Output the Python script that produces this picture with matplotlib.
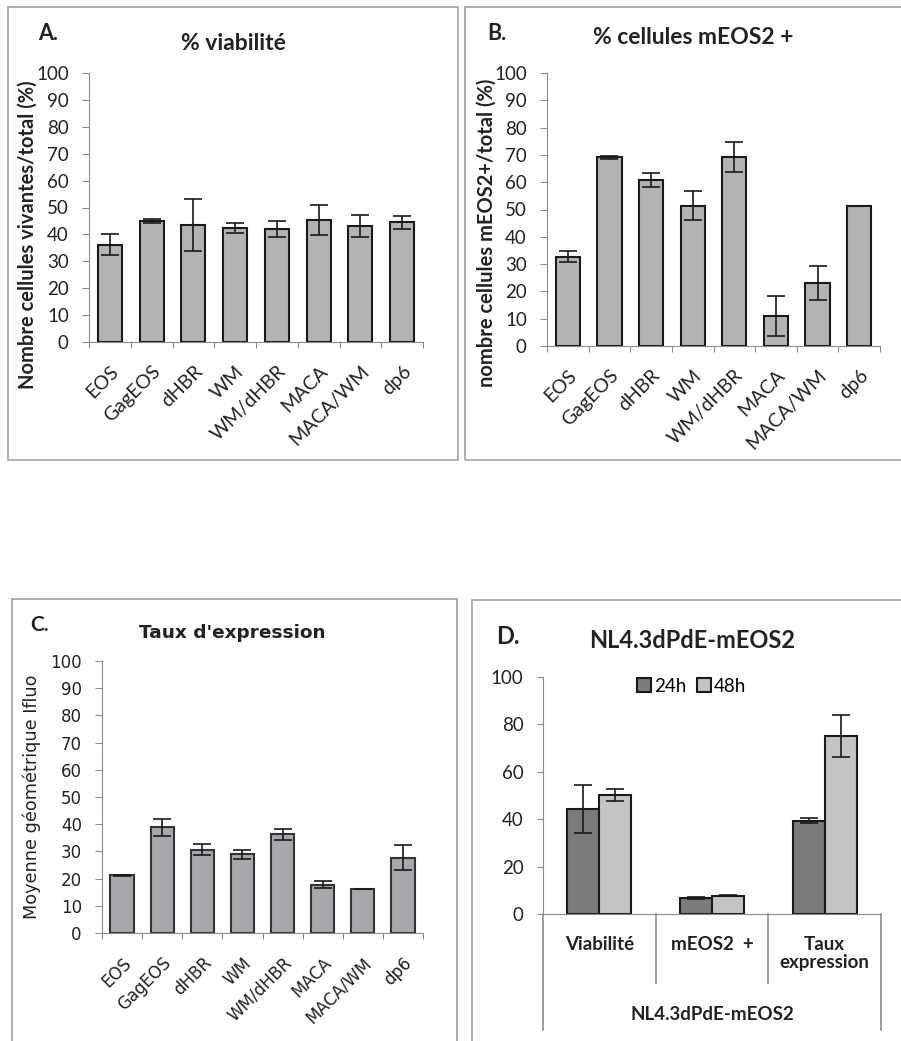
import numpy as np
import matplotlib.pyplot as plt
from matplotlib.patches import Rectangle
from matplotlib.transforms import blended_transform_factory

W, H = 901, 1041

conditions = ["EOS", "GagEOS", "dHBR", "WM", "WM/dHBR", "MACA", "MACA/WM", "dp6"]
viab = [36.2, 44.9, 43.4, 42.4, 41.9, 45.2, 43.2, 44.5]
viab_err = [4.0, 0.8, 9.7, 1.7, 3.0, 5.6, 4.1, 2.4]
meos = [32.7, 69.1, 60.8, 51.4, 69.2, 11.0, 23.0, 51.2]
meos_err = [2.0, 0.5, 2.4, 5.2, 5.5, 7.4, 6.2, 0.1]
expr = [21.3, 38.8, 30.6, 28.9, 36.3, 17.8, 16.0, 27.7]
expr_err = [0.2, 3.0, 2.1, 1.7, 2.0, 1.4, 0.0, 4.6]

groups_d = ["Viabilité", "mEOS2  +", "Taux\nexpression"]
d_24h = [44.3, 6.7, 39.4]
d_24h_err = [10.3, 0.5, 1.1]
d_48h = [50.2, 7.7, 75.0]
d_48h_err = [2.5, 0.2, 8.9]

plt.rcParams['font.family'] = ['Lato', 'DejaVu Sans']
GREY = '#8c8c8c'
INK = '#222222'

fig = plt.figure(figsize=(W / 100, H / 100), dpi=100)


def add_ax(l, t, r, b):
    return fig.add_axes([l / W, 1 - b / H, (r - l) / W, (b - t) / H])


def frame(l, t, r, b):
    fig.add_artist(Rectangle((l / W, 1 - b / H), (r - l) / W, (b - t) / H,
                             transform=fig.transFigure, fill=False,
                             ec='#a8a8a8', lw=1.3))


def ftext(x, y, s, **kw):
    fig.text(x / W, 1 - y / H, s, ha='center', va='center', color=INK, **kw)


def cat_panel(ax, vals, errs, fill, edge, xfs, yfs, family, pad_x):
    n = len(vals)
    x = np.arange(n)
    ax.bar(x, vals, width=0.58, color=fill, edgecolor=edge, linewidth=1.5,
           yerr=errs, capsize=6.5,
           error_kw=dict(elinewidth=1.2, capthick=1.2, ecolor='#1a1a1a'))
    for s in ['top', 'right']:
        ax.spines[s].set_visible(False)
    for s in ['left', 'bottom']:
        ax.spines[s].set_color(GREY)
    ax.set_xlim(-0.5, n - 0.5)
    ax.set_ylim(0, 100)
    ax.set_yticks(range(0, 101, 10))
    ax.set_xticks(np.arange(n + 1) - 0.5)
    ax.set_xticklabels([])
    ax.set_xticks(x, minor=True)
    ax.set_xticklabels(conditions, minor=True, rotation=45, ha='right',
                       va='top', rotation_mode='anchor')
    ax.tick_params(axis='x', which='minor', length=0, pad=pad_x,
                   labelsize=xfs, labelcolor=INK, labelfontfamily=family)
    ax.tick_params(axis='x', which='major', length=4.5, color=GREY)
    ax.tick_params(axis='y', length=5, color=GREY, pad=9.5, labelsize=yfs,
                   labelcolor=INK, labelfontfamily=family)


# frames
frame(8, 7, 458, 460)
frame(465, 7, 910, 460)
frame(12, 599, 457, 1050)
frame(472, 600, 910, 1050)

# A
axa = add_ax(89, 73, 423, 342)
cat_panel(axa, viab, viab_err, '#b3b3b3', '#1a1a1a', 14, 13.5, 'Lato', 15)
ftext(48, 33, 'A.', fontsize=15.5, fontweight='bold')
ftext(233, 43, '% viabilité', fontsize=16.5, fontweight='bold')
ftext(28, 235, 'Nombre cellules vivantes/total (%)', rotation=90,
      fontsize=14.5, fontweight='bold')

# B
axb = add_ax(547, 73, 880, 346)
cat_panel(axb, meos, meos_err, '#b3b3b3', '#1a1a1a', 14, 13.5, 'Lato', 15)
ftext(497, 33, 'B.', fontsize=15.5, fontweight='bold')
ftext(693, 37, '% cellules mEOS2 +', fontsize=16.5, fontweight='bold')
ftext(487, 233, 'nombre cellules mEOS2+/total (%)', rotation=90,
      fontsize=14.5, fontweight='bold')

# C
axc = add_ax(102, 661, 423, 933)
cat_panel(axc, expr, expr_err, '#a6a8ab', '#333333', 12, 12, 'DejaVu Sans', 15)
ftext(40, 625, 'C.', fontsize=15, fontweight='bold')
ftext(232, 633, "Taux d'expression", fontsize=13.3, fontweight='bold',
      family=['DejaVu Sans'])
ftext(32, 797, 'Moyenne géométrique Ifluo', rotation=90, fontsize=12.7,
      family=['DejaVu Sans'])

# D
axd = add_ax(543, 677, 881, 914)
xd = np.arange(len(groups_d))
bw = 0.285
ek = dict(elinewidth=1.2, capthick=1.2, ecolor='#1a1a1a')
axd.bar(xd - bw / 2, d_24h, bw, color='#7b7b7b', edgecolor='#1a1a1a',
        linewidth=1.5, yerr=d_24h_err, capsize=6.5, error_kw=ek, label='24h')
axd.bar(xd + bw / 2, d_48h, bw, color='#c4c4c4', edgecolor='#1a1a1a',
        linewidth=1.5, yerr=d_48h_err, capsize=6.5, error_kw=ek, label='48h')
for s in ['top', 'right']:
    axd.spines[s].set_visible(False)
for s in ['left', 'bottom']:
    axd.spines[s].set_color(GREY)
axd.set_xlim(-0.5, len(groups_d) - 0.5)
axd.set_ylim(0, 100)
axd.set_yticks(range(0, 101, 20))
axd.set_xticks([])
axd.tick_params(axis='y', length=4, color=GREY, pad=10, labelsize=13.5,
                labelcolor=INK)
axd.legend(loc='center', bbox_to_anchor=(0.44, 0.962), ncol=2,
           frameon=False, handlelength=0.75, handleheight=0.75,
           handletextpad=0.15, columnspacing=0.6, fontsize=13.5, borderpad=0)

# multi-level category axis below D
hpx = 914 - 677
tr = blended_transform_factory(axd.transData, axd.transAxes)
inner = -(983 - 914) / hpx
outer = -(1030 - 914) / hpx
for xb in np.arange(len(groups_d) + 1) - 0.5:
    bottom = outer if xb in (-0.5, len(groups_d) - 0.5) else inner
    axd.plot([xb, xb], [0, bottom], transform=tr, color=GREY, lw=1.2,
             clip_on=False)
for i, g in enumerate(groups_d):
    axd.text(i, -(936 - 914) / hpx, g, transform=tr, ha='center', va='top',
             fontsize=13.5, fontweight='bold', color=INK, linespacing=1.1)
axd.text((len(groups_d) - 1) / 2, -(1015 - 914) / hpx, 'NL4.3dPdE-mEOS2',
         transform=tr, ha='center', va='center', fontsize=13.5,
         fontweight='bold', color=INK)
ftext(508, 637, 'D.', fontsize=17, fontweight='bold')
ftext(692, 640, 'NL4.3dPdE-mEOS2', fontsize=17, fontweight='bold')

fig.savefig('out.png', dpi=100)
